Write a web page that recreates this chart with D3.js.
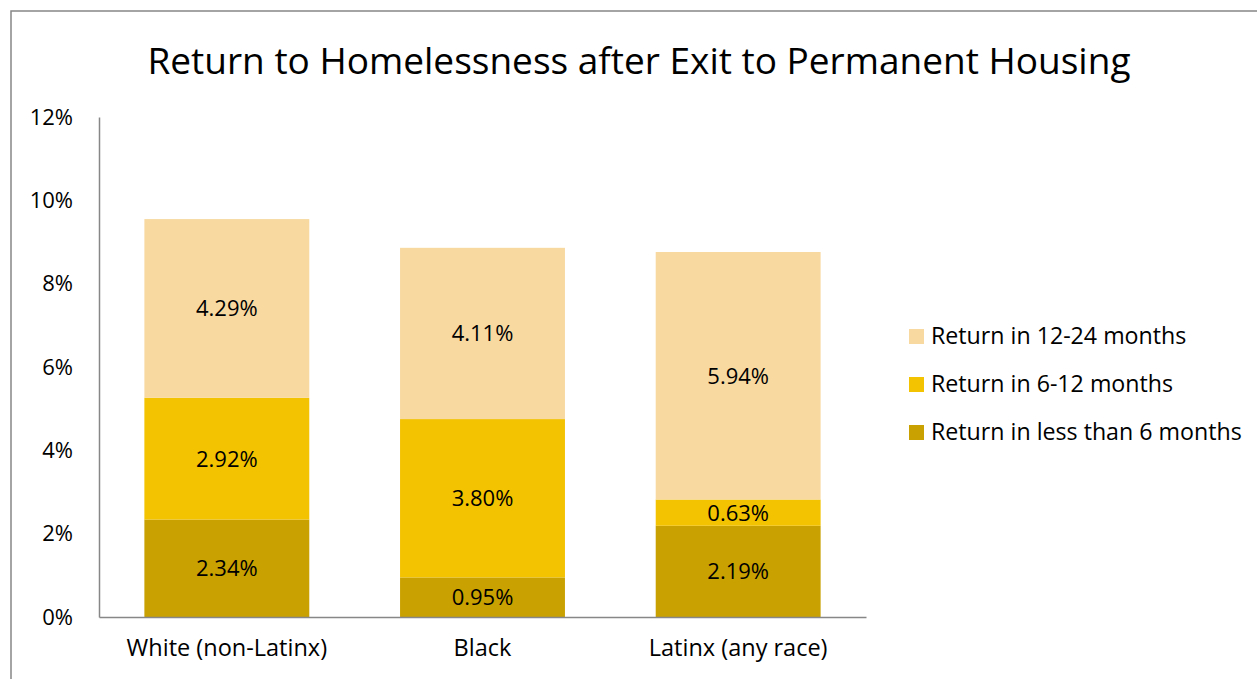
<!DOCTYPE html>
<html>
<head>
<meta charset="utf-8">
<script src="https://cdn.jsdelivr.net/npm/d3@7"></script>
<style>
  html, body { margin: 0; padding: 0; background: #fff; }
  svg { display: block; font-family: "Open Sans", sans-serif; }
</style>
</head>
<body>
<svg id="chart" width="1257" height="679"></svg>
<script>
// Groups along the x axis
const categories = ["White (non-Latinx)", "Black", "Latinx (any race)"];
// Stacked series, bottom to top (percent)
const lessThan6 = [2.34, 0.95, 2.19];
const sixTo12 = [2.92, 3.80, 0.63];
const twelveTo24 = [4.29, 4.11, 5.94];
const seriesNames = ["Return in less than 6 months", "Return in 6-12 months", "Return in 12-24 months"];
const seriesColors = ["#C9A100", "#F3C200", "#F8D9A0"];
const yTicks = [0, 2, 4, 6, 8, 10, 12];

const FONT = "'Open Sans', sans-serif";
const svg = d3.select("#chart");

// Outer frame
svg.append("rect")
  .attr("x", 11).attr("y", 11)
  .attr("width", 1300).attr("height", 700)
  .attr("fill", "none").attr("stroke", "#878787").attr("stroke-width", 1.5);

// Title
svg.append("text")
  .attr("x", 639).attr("y", 74)
  .attr("text-anchor", "middle")
  .attr("font-size", 37)
  .attr("fill", "#000")
  .text("Return to Homelessness after Exit to Permanent Housing");

const plot = { left: 99, right: 866, top: 117, bottom: 617 };

const x = d3.scaleBand()
  .domain(categories)
  .range([plot.left, plot.right])
  .paddingInner(0.355)
  .paddingOuter(0.1775);

const y = d3.scaleLinear().domain([0, 12]).range([plot.bottom, plot.top]);

// Build stacked table from the series arrays
const rows = categories.map((c, i) => ({
  cat: c, s0: lessThan6[i], s1: sixTo12[i], s2: twelveTo24[i]
}));
const stack = d3.stack().keys(["s0", "s1", "s2"])(rows);

const layers = svg.append("g").selectAll("g")
  .data(stack).join("g")
  .attr("fill", (d, i) => seriesColors[i]);

layers.selectAll("rect")
  .data(d => d).join("rect")
  .attr("x", d => x(d.data.cat))
  .attr("width", x.bandwidth())
  .attr("y", d => y(d[1]))
  .attr("height", d => y(d[0]) - y(d[1]));

// Segment value labels
layers.selectAll("text")
  .data((d) => d.map(p => ({ p, key: d.key })))
  .join("text")
  .attr("x", d => x(d.p.data.cat) + x.bandwidth() / 2)
  .attr("y", d => (y(d.p[0]) + y(d.p[1])) / 2)
  .attr("dy", "0.36em")
  .attr("text-anchor", "middle")
  .attr("font-size", 22)
  .attr("fill", "#000")
  .text(d => d.p.data[d.key].toFixed(2) + "%");

// Y axis
const yAxis = svg.append("g")
  .attr("transform", `translate(${plot.left},0)`)
  .call(d3.axisLeft(y).tickValues(yTicks).tickFormat(d => d + "%").tickSize(0).tickPadding(26));
yAxis.attr("font-family", FONT);
yAxis.select(".domain").attr("stroke", "#878787").attr("stroke-width", 1.5);
yAxis.selectAll("text").attr("font-size", 22).attr("fill", "#000");

// X axis
const xAxis = svg.append("g")
  .attr("transform", `translate(0,${plot.bottom})`)
  .call(d3.axisBottom(x).tickSize(0).tickPadding(22));
xAxis.attr("font-family", FONT);
xAxis.select(".domain").attr("stroke", "#878787").attr("stroke-width", 1.5);
xAxis.selectAll("text").attr("font-size", 23.5).attr("fill", "#000");

// Legend, top entry first
const legendOrder = [2, 1, 0];
const legend = svg.append("g").selectAll("g")
  .data(legendOrder).join("g")
  .attr("transform", (d, i) => `translate(909,${336 + i * 48})`);
legend.append("rect")
  .attr("x", 0).attr("y", -7).attr("width", 15).attr("height", 15)
  .attr("fill", d => seriesColors[d]);
legend.append("text")
  .attr("x", 22).attr("y", 0).attr("dy", "0.36em")
  .attr("font-size", 23.2).attr("fill", "#000")
  .text(d => seriesNames[d]);
</script>
</body>
</html>
